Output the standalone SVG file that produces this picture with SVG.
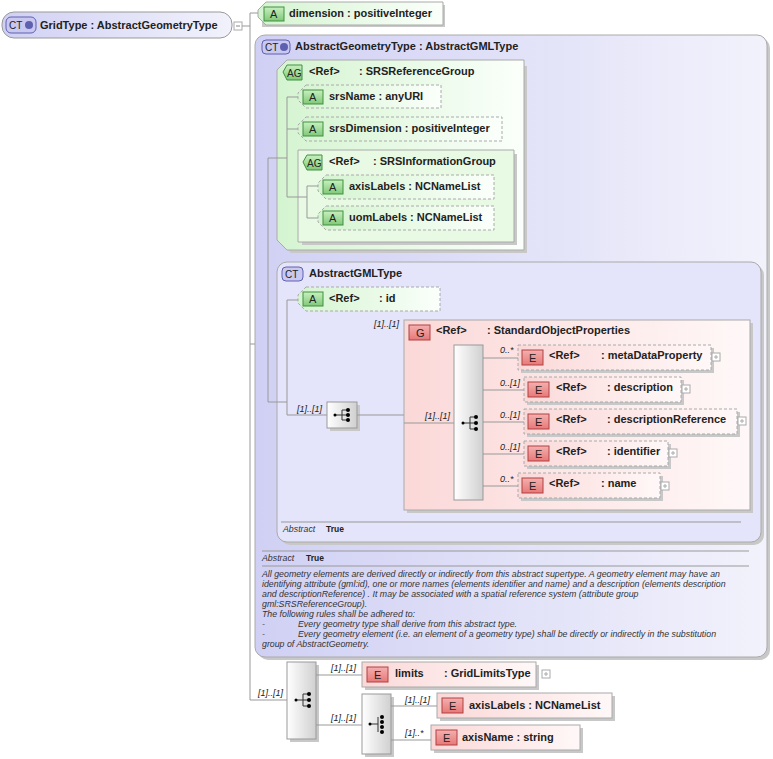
<svg xmlns="http://www.w3.org/2000/svg" width="773" height="759" viewBox="0 0 773 759">
<defs>
<linearGradient id="gE" x1="0" x2="1" y1="0" y2="0"><stop offset="0" stop-color="#fbd8d8"/><stop offset="1" stop-color="#fff8f8"/></linearGradient>
<linearGradient id="gA" x1="0" x2="1" y1="0" y2="0"><stop offset="0" stop-color="#d4f4d0"/><stop offset="1" stop-color="#fbfffb"/></linearGradient>
<linearGradient id="gC" x1="0" x2="1" y1="0" y2="0"><stop offset="0" stop-color="#d0d0f4"/><stop offset="1" stop-color="#f2f2fc"/></linearGradient>
<linearGradient id="gS" x1="0" x2="1" y1="0" y2="0"><stop offset="0" stop-color="#ffffff"/><stop offset="1" stop-color="#d0d0d0"/></linearGradient>
<linearGradient id="gB" x1="0" x2="0" y1="0" y2="1"><stop offset="0" stop-color="#f4b0b0"/><stop offset="1" stop-color="#e87878"/></linearGradient>
<linearGradient id="gBA" x1="0" x2="0" y1="0" y2="1"><stop offset="0" stop-color="#c8f0c0"/><stop offset="1" stop-color="#80c878"/></linearGradient>
</defs>
<style>
text{font-family:"Liberation Sans",Arial,sans-serif;font-size:11px;fill:#222}
.b{font-weight:bold}
.m{font-style:italic;font-size:9px}
.d{font-style:italic;font-size:8.8px;fill:#333}
.ln{fill:none;stroke:#999;stroke-width:1}
.el{fill:url(#gE);stroke:#aaa}
.eld{fill:url(#gE);stroke:#aaa;stroke-dasharray:3,2}
.at{fill:url(#gA);stroke:#aaa;stroke-dasharray:3,2}
.ats{fill:url(#gA);stroke:#aaa}
.bE{fill:url(#gB);stroke:#b04040}
.bA{fill:url(#gBA);stroke:#409040}
.bC{fill:#c8c8f0;stroke:#6060b0}
.sh{fill:#c8c8c8}
.pl{fill:#fff;stroke:#aaa}
.seq{fill:url(#gS);stroke:#999}
</style>

<g id="GridType">
<rect x="2" y="12" width="230" height="26" rx="12" fill="url(#gC)" stroke="#999"/>
<rect x="6" y="17" width="30" height="16" rx="5" class="bC"/>
<text x="9" y="29" style="font-size:10px">CT</text><circle cx="29" cy="25" r="4" fill="#6060b0"/>
<text x="40" y="29" class="b">GridType : AbstractGeometryType</text>
<rect x="234" y="22" width="8" height="8" class="pl"/><path d="M236,26 H240" stroke="#888"/>
</g>

<g id="dimension">
<rect x="262" y="5" width="183" height="22" class="sh"/>
<path d="M266,2 H443 V25 H266 L258,17 V10 Z" class="ats"/>
<rect x="264" y="7" width="20" height="14" class="bA"/><text x="270" y="18">A</text>
<text x="289" y="17" class="b">dimension : positiveInteger</text>
</g>

<g id="AbstractGeometryType">
<rect x="258" y="38" width="512" height="622" rx="10" class="sh"/>
<rect x="255" y="35" width="512" height="622" rx="10" fill="url(#gC)" stroke="#aaa"/>
<rect x="262" y="40" width="28" height="14" rx="4" class="bC"/>
<text x="265" y="51" style="font-size:10px">CT</text><circle cx="284" cy="47" r="4" fill="#6060b0"/>
<text x="295" y="50" class="b">AbstractGeometryType : AbstractGMLType</text>
<path d="M262,551 H749 M262,566 H749" stroke="#999"/>
<text x="262" y="561" class="d">Abstract</text><text x="306" y="561" class="b" style="font-size:8.5px">True</text>
<text class="d"><tspan x="262" y="577">All geometry elements are derived directly or indirectly from this abstract supertype. A geometry element may have an</tspan><tspan x="262" y="587">identifying attribute (gml:id), one or more names (elements identifier and name) and a description (elements description</tspan><tspan x="262" y="597">and descriptionReference) . It may be associated with a spatial reference system (attribute group</tspan><tspan x="262" y="607">gml:SRSReferenceGroup).</tspan><tspan x="262" y="617">The following rules shall be adhered to:</tspan><tspan x="262" y="627">-</tspan><tspan x="298" y="627">Every geometry type shall derive from this abstract type.</tspan><tspan x="262" y="637">-</tspan><tspan x="298" y="637">Every geometry element (i.e. an element of a geometry type) shall be directly or indirectly in the substitution</tspan><tspan x="262" y="647">group of AbstractGeometry.</tspan></text>
</g>

<g id="SRSReferenceGroup">
<path d="M285,66 H527 V253 H291 L281,243 Z" class="sh"/>
<path d="M287,60 H524 V250 H287 L277,240 V70 Z" fill="url(#gA)" stroke="#aaa"/>
<path d="M283,72 L287,65 H302 V80 H287 Z" class="bA"/><text x="287" y="77" style="font-size:10px">AG</text>
<text x="309" y="75" class="b">&lt;Ref&gt;</text><text x="359" y="75" class="b">: SRSReferenceGroup</text>
</g>
<g id="srsName">
<path d="M306,85 H441 V108 H306 L298,100 V93 Z" class="at"/>
<rect x="303" y="90" width="20" height="14" class="bA"/><text x="309" y="101">A</text>
<text x="329" y="100" class="b">srsName : anyURI</text>
</g>
<g id="srsDimension">
<path d="M306,117 H502 V141 H306 L298,133 V125 Z" class="at"/>
<rect x="303" y="122" width="20" height="14" class="bA"/><text x="309" y="133">A</text>
<text x="329" y="132" class="b">srsDimension : positiveInteger</text>
</g>
<g id="SRSInformationGroup">
<path d="M302,154 H517 V245 H302 Z" class="sh"/>
<path d="M298,150 H514 V242 H298 Z" fill="#e8fae4" stroke="#aaa"/>
<path d="M303,162 L307,155 H322 V170 H307 Z" class="bA"/><text x="307" y="167" style="font-size:10px">AG</text>
<text x="329" y="165" class="b">&lt;Ref&gt;</text><text x="373" y="165" class="b">: SRSInformationGroup</text>
</g>
<g id="axisLabelsAttr">
<path d="M326,175 H494 V199 H326 L318,191 V183 Z" class="at"/>
<rect x="323" y="180" width="20" height="14" class="bA"/><text x="329" y="191">A</text>
<text x="349" y="190" class="b">axisLabels : NCNameList</text>
</g>
<g id="uomLabels">
<path d="M326,206 H494 V230 H326 L318,222 V214 Z" class="at"/>
<rect x="323" y="211" width="20" height="14" class="bA"/><text x="329" y="222">A</text>
<text x="349" y="221" class="b">uomLabels : NCNameList</text>
</g>

<g id="AbstractGMLType">
<rect x="280" y="265" width="484" height="280" rx="10" class="sh"/>
<rect x="277" y="262" width="484" height="280" rx="10" fill="#e4e4fa" stroke="#aaa"/>
<rect x="282" y="267" width="21" height="14" rx="4" class="bC"/><text x="285" y="278" style="font-size:10px">CT</text>
<text x="309" y="277" class="b">AbstractGMLType</text>
<path d="M281,522 H741" stroke="#999"/>
<text x="283" y="532" class="d">Abstract</text><text x="326" y="532" class="b" style="font-size:8.5px">True</text>
</g>
<g id="id">
<path d="M306,287 H440 V311 H306 L298,303 V295 Z" class="at"/>
<rect x="303" y="292" width="20" height="14" class="bA"/><text x="309" y="303">A</text>
<text x="329" y="302" class="b">&lt;Ref&gt;</text><text x="379" y="302" class="b">: id</text>
</g>
<g id="choice1">
<text x="297" y="412" class="m">[1]..[1]</text>
<rect x="330" y="405" width="30" height="26" class="sh"/>
<rect x="327" y="402" width="30" height="26" class="seq"/>
<path d="M336,415 H342 M342,410 V420 M342,410 H347 M342,415 H347 M342,420 H347" stroke="#333"/>
<circle cx="335" cy="415" r="1.5"/><circle cx="348" cy="410" r="2"/><circle cx="348" cy="415" r="2"/><circle cx="348" cy="420" r="2"/>
</g>
<g id="StandardObjectProperties">
<text x="374" y="327" class="m">[1]..[1]</text>
<rect x="407" y="323" width="346" height="190" class="sh"/>
<rect x="404" y="320" width="346" height="190" fill="url(#gE)" stroke="#aaa"/>
<rect x="409" y="325" width="21" height="15" class="bE"/><text x="416" y="337">G</text>
<text x="436" y="334" class="b">&lt;Ref&gt;</text><text x="487" y="334" class="b">: StandardObjectProperties</text>
<text x="425" y="419" class="m">[1]..[1]</text>
<rect x="454" y="345" width="29" height="155" class="seq"/>
<path d="M464,423 H470 M470,417 V429 M470,417 H476 M470,423 H476 M470,429 H476" stroke="#333"/>
<circle cx="463" cy="423" r="1.5"/><circle cx="476" cy="417" r="2"/><circle cx="476" cy="423" r="2"/><circle cx="476" cy="429" r="2"/>
</g>
<g id="metaDataProperty">
<text x="500" y="353" class="m">0..*</text>
<rect x="521" y="348" width="193" height="25" class="sh"/>
<rect x="518" y="345" width="193" height="25" class="eld"/>
<rect x="522" y="350" width="21" height="15" class="bE"/><text x="529" y="362">E</text>
<text x="549" y="359" class="b">&lt;Ref&gt;</text><text x="601" y="359" class="b">: metaDataProperty</text>
<rect x="712" y="353" width="8" height="8" class="pl"/><path d="M714,357 H718 M716,355 V359" stroke="#aaa"/>
</g>
<g id="description">
<text x="500" y="386" class="m">0..[1]</text>
<rect x="527" y="380" width="157" height="25" class="sh"/>
<rect x="524" y="377" width="157" height="25" class="eld"/>
<rect x="528" y="382" width="21" height="15" class="bE"/><text x="535" y="394">E</text>
<text x="556" y="391" class="b">&lt;Ref&gt;</text><text x="607" y="391" class="b">: description</text>
<rect x="682" y="385" width="8" height="8" class="pl"/><path d="M684,389 H688 M686,387 V391" stroke="#aaa"/>
</g>
<g id="descriptionReference">
<text x="500" y="418" class="m">0..[1]</text>
<rect x="527" y="412" width="213" height="25" class="sh"/>
<rect x="524" y="409" width="213" height="25" class="eld"/>
<rect x="528" y="414" width="21" height="15" class="bE"/><text x="535" y="426">E</text>
<text x="556" y="423" class="b">&lt;Ref&gt;</text><text x="607" y="423" class="b">: descriptionReference</text>
<rect x="738" y="417" width="8" height="8" class="pl"/><path d="M740,421 H744 M742,419 V423" stroke="#aaa"/>
</g>
<g id="identifier">
<text x="500" y="450" class="m">0..[1]</text>
<rect x="527" y="444" width="144" height="25" class="sh"/>
<rect x="524" y="441" width="144" height="25" class="eld"/>
<rect x="528" y="446" width="21" height="15" class="bE"/><text x="535" y="458">E</text>
<text x="556" y="455" class="b">&lt;Ref&gt;</text><text x="607" y="455" class="b">: identifier</text>
<rect x="669" y="449" width="8" height="8" class="pl"/><path d="M671,453 H675 M673,451 V455" stroke="#aaa"/>
</g>
<g id="name">
<text x="500" y="482" class="m">0..*</text>
<rect x="521" y="476" width="142" height="25" class="sh"/>
<rect x="518" y="473" width="142" height="25" class="eld"/>
<rect x="522" y="478" width="21" height="15" class="bE"/><text x="529" y="490">E</text>
<text x="549" y="487" class="b">&lt;Ref&gt;</text><text x="601" y="487" class="b">: name</text>
<rect x="661" y="482" width="8" height="8" class="pl"/><path d="M663,486 H667 M665,484 V488" stroke="#aaa"/>
</g>

<g id="sequence1">
<text x="258" y="696" class="m">[1]..[1]</text>
<rect x="290" y="665" width="29" height="77" class="sh"/>
<rect x="287" y="662" width="29" height="77" class="seq"/>
<path d="M297,700 H303 M303,694 V706 M303,694 H309 M303,700 H309 M303,706 H309" stroke="#333"/>
<circle cx="296" cy="700" r="1.5"/><circle cx="309" cy="694" r="2"/><circle cx="309" cy="700" r="2"/><circle cx="309" cy="706" r="2"/>
</g>
<g id="limits">
<text x="331" y="671" class="m">[1]..[1]</text>
<rect x="365" y="665" width="174" height="25" class="sh"/>
<rect x="362" y="662" width="174" height="25" class="el"/>
<rect x="367" y="667" width="21" height="15" class="bE"/><text x="374" y="679">E</text>
<text x="395" y="677" class="b">limits</text><text x="444" y="677" class="b">: GridLimitsType</text>
<rect x="542" y="670" width="8" height="8" class="pl"/><path d="M544,674 H548 M546,672 V676" stroke="#aaa"/>
</g>
<g id="sequence2">
<text x="331" y="721" class="m">[1]..[1]</text>
<rect x="365" y="697" width="29" height="60" class="sh"/>
<rect x="362" y="694" width="29" height="60" class="seq"/>
<path d="M371,724 H378 M378,717 V732" stroke="#333"/>
<circle cx="370" cy="724" r="1.5"/><circle cx="382" cy="717" r="2"/><circle cx="382" cy="722" r="2"/><circle cx="382" cy="727" r="2"/><circle cx="382" cy="732" r="2"/>
</g>
<g id="axisLabels">
<text x="405" y="703" class="m">[1]..[1]</text>
<rect x="440" y="696" width="175" height="25" class="sh"/>
<rect x="437" y="693" width="175" height="25" class="el"/>
<rect x="442" y="698" width="21" height="15" class="bE"/><text x="449" y="710">E</text>
<text x="469" y="709" class="b">axisLabels : NCNameList</text>
</g>
<g id="axisName">
<text x="405" y="736" class="m">[1]..*</text>
<rect x="434" y="728" width="149" height="25" class="sh"/>
<rect x="431" y="725" width="149" height="25" class="el"/>
<rect x="436" y="730" width="21" height="15" class="bE"/><text x="443" y="742">E</text>
<text x="462" y="741" class="b">axisName : string</text>
</g>

<g id="connectors">
<path class="ln" d="M242,26 H250 M250,13 V700 M250,13 H258 M250,344 H255 M250,700 H287"/>
<path class="ln" d="M268,158 V402 H287 M268,158 H287 M287,97 V197 M287,97 H298 M287,129 H298 M287,197 H307 M307,186 V218 M307,186 H318 M307,218 H318"/>
<path class="ln" d="M287,300 V415 M287,300 H298 M287,415 H327 M357,415 H404 M404,423 H454 M483,358 H518 M483,390 H524 M483,422 H524 M483,454 H524 M483,486 H518"/>
<path class="ln" d="M316,675 H362 M316,725 H362 M391,706 H437 M391,740 H431"/>
</g>
</svg>
